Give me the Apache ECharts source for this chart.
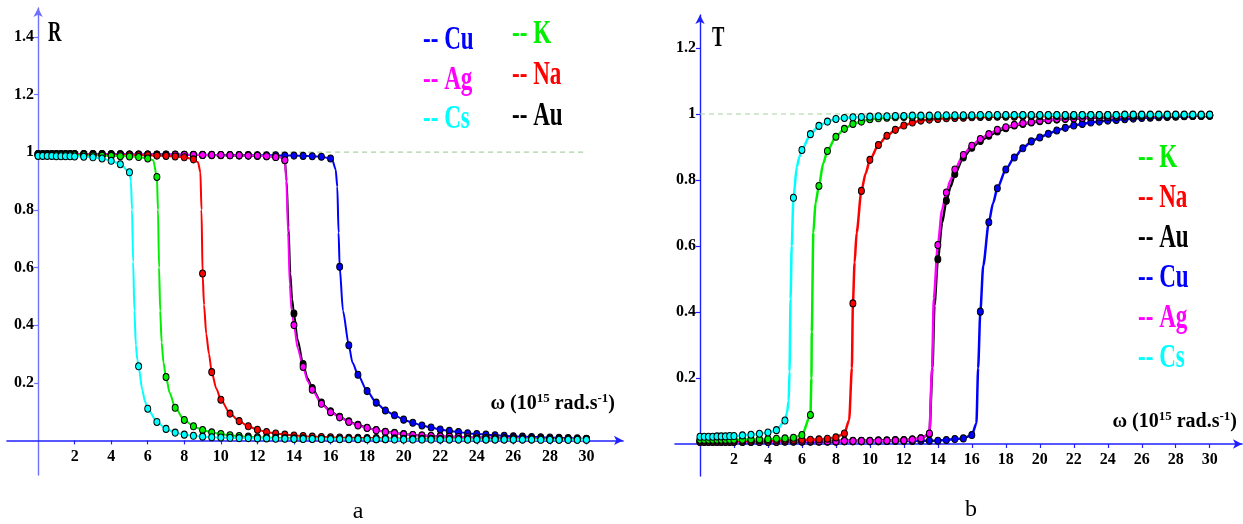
<!DOCTYPE html>
<html>
<head>
<meta charset="utf-8">
<script src="https://cdn.jsdelivr.net/npm/echarts@6/dist/echarts.min.js"></script>
<style>
  html, body { margin: 0; padding: 0; background: #fff; }
  #main { width: 1243px; height: 524px; }
</style>
</head>
<body>
<div id="main"></div>
<script>
// frequency grid where the markers sit (10^15 rad/s)
const omega = [0, 0.25, 0.5, 0.75, 1, 1.25, 1.5, 1.75, 2,
  2.5, 3, 3.5, 4, 4.5, 5, 5.5, 6, 6.5, 7,
  7.5, 8, 8.5, 9, 9.5, 10, 10.5, 11, 11.5, 12,
  12.5, 13, 13.5, 14, 14.5, 15, 15.5, 16, 16.5, 17,
  17.5, 18, 18.5, 19, 19.5, 20, 20.5, 21, 21.5, 22,
  22.5, 23, 23.5, 24, 24.5, 25, 25.5, 26, 26.5, 27,
  27.5, 28, 28.5, 29, 29.5, 30];

const xTicks = [2, 4, 6, 8, 10, 12, 14, 16, 18, 20, 22, 24, 26, 28, 30];
const rTicks = [0.2, 0.4, 0.6, 0.8, 1, 1.2, 1.4];
const tTicks = [0.2, 0.4, 0.6, 0.8, 1, 1.2];
const refLine = [[0, 1], [30, 1]];

// ---- reflectance R (panel a) ----
const csR = [0.987, 0.987, 0.987, 0.987, 0.986, 0.986, 0.986, 0.986, 0.985,
  0.984, 0.982, 0.978, 0.970, 0.958, 0.930, 0.257, 0.110, 0.064, 0.040,
  0.027, 0.020, 0.016, 0.013, 0.011, 0.010, 0.009, 0.008, 0.008, 0.007,
  0.007, 0.006, 0.006, 0.005, 0.005, 0.005, 0.005, 0.004, 0.004, 0.004,
  0.004, 0.004, 0.004, 0.004, 0.003, 0.003, 0.003, 0.003, 0.003, 0.003,
  0.003, 0.003, 0.003, 0.003, 0.003, 0.003, 0.003, 0.003, 0.003, 0.003,
  0.002, 0.002, 0.002, 0.002, 0.002, 0.002];
const kR = [0.989, 0.989, 0.989, 0.989, 0.989, 0.989, 0.989, 0.989, 0.989,
  0.989, 0.988, 0.988, 0.987, 0.986, 0.985, 0.983, 0.978, 0.914, 0.220,
  0.113, 0.071, 0.049, 0.036, 0.028, 0.022, 0.018, 0.015, 0.013, 0.011,
  0.010, 0.009, 0.008, 0.007, 0.007, 0.006, 0.006, 0.006, 0.005, 0.005,
  0.005, 0.005, 0.004, 0.004, 0.004, 0.004, 0.004, 0.004, 0.004, 0.003,
  0.003, 0.003, 0.003, 0.003, 0.003, 0.003, 0.003, 0.003, 0.003, 0.003,
  0.003, 0.003, 0.003, 0.003, 0.003, 0.003];
const naR = [0.991, 0.991, 0.991, 0.991, 0.991, 0.991, 0.991, 0.991, 0.991,
  0.991, 0.991, 0.990, 0.990, 0.990, 0.990, 0.989, 0.989, 0.988, 0.987,
  0.985, 0.982, 0.975, 0.579, 0.237, 0.141, 0.093, 0.067, 0.049, 0.037,
  0.029, 0.024, 0.020, 0.017, 0.015, 0.013, 0.012, 0.011, 0.010, 0.009,
  0.009, 0.008, 0.008, 0.007, 0.007, 0.006, 0.006, 0.006, 0.006, 0.005,
  0.005, 0.005, 0.005, 0.005, 0.004, 0.004, 0.004, 0.004, 0.004, 0.004,
  0.004, 0.003, 0.003, 0.003, 0.003, 0.003];
const agR = [0.993, 0.993, 0.993, 0.993, 0.993, 0.993, 0.993, 0.993, 0.993,
  0.993, 0.993, 0.993, 0.992, 0.992, 0.992, 0.992, 0.992, 0.991, 0.991,
  0.991, 0.991, 0.990, 0.990, 0.990, 0.990, 0.989, 0.989, 0.988, 0.988,
  0.986, 0.983, 0.972, 0.400, 0.255, 0.176, 0.127, 0.098, 0.080, 0.064,
  0.052, 0.043, 0.035, 0.029, 0.025, 0.021, 0.019, 0.017, 0.015, 0.014,
  0.013, 0.012, 0.011, 0.010, 0.009, 0.009, 0.008, 0.008, 0.007, 0.007,
  0.007, 0.006, 0.006, 0.006, 0.005, 0.005];
const auR = [0.992, 0.992, 0.992, 0.992, 0.992, 0.992, 0.992, 0.992, 0.992,
  0.992, 0.992, 0.992, 0.992, 0.992, 0.991, 0.991, 0.991, 0.991, 0.991,
  0.990, 0.990, 0.990, 0.990, 0.989, 0.989, 0.989, 0.988, 0.988, 0.987,
  0.986, 0.983, 0.973, 0.440, 0.265, 0.182, 0.131, 0.101, 0.082, 0.066,
  0.054, 0.044, 0.036, 0.030, 0.026, 0.022, 0.019, 0.017, 0.015, 0.014,
  0.013, 0.012, 0.011, 0.010, 0.010, 0.009, 0.008, 0.008, 0.007, 0.007,
  0.007, 0.006, 0.006, 0.006, 0.005, 0.005];
const cuR = [0.993, 0.993, 0.993, 0.993, 0.993, 0.993, 0.993, 0.993, 0.993,
  0.993, 0.993, 0.993, 0.993, 0.993, 0.992, 0.992, 0.992, 0.992, 0.992,
  0.992, 0.991, 0.991, 0.991, 0.991, 0.990, 0.990, 0.990, 0.990, 0.989,
  0.989, 0.989, 0.988, 0.988, 0.987, 0.986, 0.984, 0.978, 0.602, 0.330,
  0.228, 0.171, 0.131, 0.104, 0.087, 0.072, 0.061, 0.052, 0.045, 0.038,
  0.033, 0.029, 0.025, 0.022, 0.020, 0.018, 0.016, 0.014, 0.013, 0.012,
  0.011, 0.010, 0.009, 0.008, 0.007, 0.006];

// extra points of the curves between markers (steep edges)
const csRx = [[5.08, 0.9], [5.14, 0.8], [5.2, 0.62], [5.27, 0.45], [5.35, 0.33], [5.43, 0.28], [5.7, 0.175], [5.85, 0.135]];
const kRx = [[6.3, 0.972], [6.56, 0.8], [6.62, 0.6], [6.68, 0.45], [6.76, 0.34], [6.86, 0.27], [7.2, 0.165]];
const naRx = [[8.75, 0.965], [8.88, 0.93], [8.94, 0.8], [9.08, 0.47], [9.2, 0.37], [9.35, 0.3], [9.75, 0.18]];
const agRx = [[13.3, 0.982], [13.58, 0.9], [13.68, 0.72], [13.77, 0.54], [13.87, 0.45], [14.2, 0.32], [14.75, 0.205]];
const auRx = [[13.3, 0.982], [13.6, 0.9], [13.7, 0.74], [13.8, 0.58], [13.9, 0.49], [14.2, 0.35], [14.75, 0.215]];
const cuRx = [[16.1, 0.972], [16.28, 0.94], [16.37, 0.88], [16.44, 0.72], [16.68, 0.45], [17.2, 0.27]];

// ---- transmittance T (panel b) ----
const csT = [0.022, 0.022, 0.022, 0.022, 0.023, 0.023, 0.023, 0.024, 0.024,
  0.026, 0.028, 0.031, 0.035, 0.042, 0.071, 0.746, 0.891, 0.939, 0.964,
  0.977, 0.985, 0.988, 0.990, 0.991, 0.992, 0.993, 0.993, 0.994, 0.994,
  0.995, 0.995, 0.995, 0.996, 0.996, 0.996, 0.996, 0.996, 0.997, 0.997,
  0.997, 0.997, 0.997, 0.997, 0.997, 0.997, 0.997, 0.997, 0.997, 0.997,
  0.997, 0.997, 0.997, 0.997, 0.997, 0.998, 0.998, 0.998, 0.998, 0.998,
  0.998, 0.998, 0.998, 0.998, 0.998, 0.998];
const kT = [0.013, 0.013, 0.013, 0.013, 0.013, 0.013, 0.013, 0.013, 0.013,
  0.013, 0.014, 0.014, 0.015, 0.016, 0.017, 0.019, 0.027, 0.088, 0.782,
  0.888, 0.931, 0.955, 0.970, 0.977, 0.984, 0.987, 0.989, 0.990, 0.991,
  0.991, 0.992, 0.992, 0.993, 0.993, 0.994, 0.994, 0.994, 0.995, 0.995,
  0.995, 0.995, 0.995, 0.996, 0.996, 0.996, 0.996, 0.996, 0.996, 0.996,
  0.997, 0.997, 0.997, 0.997, 0.997, 0.997, 0.997, 0.997, 0.997, 0.997,
  0.997, 0.997, 0.997, 0.997, 0.997, 0.997];
const naT = [0.010, 0.010, 0.010, 0.010, 0.010, 0.010, 0.010, 0.010, 0.010,
  0.010, 0.010, 0.011, 0.011, 0.011, 0.012, 0.012, 0.013, 0.013, 0.014,
  0.016, 0.020, 0.032, 0.426, 0.767, 0.861, 0.906, 0.934, 0.952, 0.965,
  0.974, 0.980, 0.983, 0.985, 0.987, 0.988, 0.989, 0.990, 0.991, 0.991,
  0.992, 0.992, 0.992, 0.993, 0.993, 0.993, 0.994, 0.994, 0.994, 0.994,
  0.995, 0.995, 0.995, 0.995, 0.995, 0.995, 0.995, 0.995, 0.995, 0.995,
  0.996, 0.996, 0.996, 0.996, 0.996, 0.996];
const agT = [0.007, 0.007, 0.007, 0.007, 0.007, 0.007, 0.007, 0.007, 0.007,
  0.007, 0.007, 0.007, 0.007, 0.007, 0.008, 0.008, 0.008, 0.008, 0.008,
  0.008, 0.008, 0.009, 0.009, 0.009, 0.009, 0.010, 0.010, 0.011, 0.011,
  0.013, 0.017, 0.032, 0.603, 0.762, 0.832, 0.876, 0.904, 0.924, 0.939,
  0.952, 0.960, 0.967, 0.972, 0.976, 0.980, 0.982, 0.985, 0.986, 0.987,
  0.988, 0.990, 0.990, 0.991, 0.991, 0.992, 0.992, 0.993, 0.993, 0.994,
  0.994, 0.994, 0.995, 0.995, 0.995, 0.996];
const auT = [0.008, 0.008, 0.008, 0.008, 0.008, 0.008, 0.008, 0.008, 0.008,
  0.008, 0.008, 0.008, 0.008, 0.008, 0.009, 0.009, 0.009, 0.009, 0.009,
  0.009, 0.009, 0.010, 0.010, 0.010, 0.010, 0.011, 0.011, 0.012, 0.012,
  0.014, 0.017, 0.030, 0.560, 0.737, 0.818, 0.868, 0.898, 0.918, 0.934,
  0.947, 0.957, 0.965, 0.970, 0.974, 0.978, 0.981, 0.983, 0.985, 0.986,
  0.987, 0.988, 0.989, 0.990, 0.990, 0.991, 0.992, 0.992, 0.993, 0.993,
  0.993, 0.994, 0.994, 0.994, 0.995, 0.995];
const cuT = [0.006, 0.006, 0.006, 0.006, 0.006, 0.006, 0.006, 0.006, 0.006,
  0.006, 0.006, 0.006, 0.006, 0.006, 0.007, 0.007, 0.007, 0.007, 0.007,
  0.007, 0.007, 0.008, 0.008, 0.008, 0.008, 0.008, 0.009, 0.009, 0.009,
  0.009, 0.010, 0.010, 0.010, 0.012, 0.015, 0.017, 0.027, 0.401, 0.672,
  0.775, 0.832, 0.868, 0.896, 0.917, 0.929, 0.940, 0.950, 0.958, 0.965,
  0.970, 0.974, 0.977, 0.980, 0.982, 0.984, 0.986, 0.988, 0.989, 0.990,
  0.991, 0.992, 0.993, 0.994, 0.994, 0.995];

const csTx = [[5.12, 0.095], [5.22, 0.13], [5.27, 0.22], [5.33, 0.44], [5.4, 0.6], [5.7, 0.84], [5.85, 0.87]];
const kTx = [[6.56, 0.2], [6.58, 0.34], [6.67, 0.64], [6.8, 0.73], [7.25, 0.85]];
const naTx = [[8.78, 0.073], [8.94, 0.23], [9.1, 0.55], [9.22, 0.64], [9.75, 0.82]];
const agTx = [[13.66, 0.23], [13.76, 0.44], [14.25, 0.71], [14.75, 0.8]];
const auTx = [[13.68, 0.23], [13.8, 0.42], [14.25, 0.67], [14.75, 0.78]];
const cuTx = [[16.27, 0.063], [16.37, 0.23], [16.67, 0.54], [17.25, 0.73]];

const metals = ['Au', 'Cu', 'Ag', 'Na', 'K', 'Cs'];
const colors = { Cu: '#0000ff', Ag: '#ff00ff', Cs: '#00ffff', K: '#00ee00', Na: '#ff0000', Au: '#000000' };
const rData = { Cu: [cuR, cuRx], Ag: [agR, agRx], Cs: [csR, csRx], K: [kR, kRx], Na: [naR, naRx], Au: [auR, auRx] };
const tData = { Cu: [cuT, cuTx], Ag: [agT, agTx], Cs: [csT, csTx], K: [kT, kTx], Na: [naT, naTx], Au: [auT, auTx] };

const serif = '"Liberation Serif", "DejaVu Serif", serif';

// markers on omega grid, plain curve points elsewhere
function curve(ys, extra) {
  let pts = omega.map((w, i) => ({ value: [w, ys[i]] }));
  extra.forEach(p => pts.push({ value: p, symbol: 'none' }));
  pts.sort((a, b) => a.value[0] - b.value[0]);
  return pts;
}

function metalSeries(name, set, idx, lw) {
  return {
    name: name,
    type: 'line',
    xAxisIndex: idx,
    yAxisIndex: idx,
    data: curve(set[name][0], set[name][1]),
    smooth: 0.25,
    smoothMonotone: 'x',
    showAllSymbol: true,
    symbol: 'circle',
    symbolSize: [6, 7],
    lineStyle: { color: colors[name], width: lw },
    itemStyle: { color: colors[name], borderColor: '#000', borderWidth: 1 },
    silent: true,
    animation: false
  };
}

function refSeries(idx) {
  return {
    type: 'line',
    xAxisIndex: idx,
    yAxisIndex: idx,
    data: refLine,
    symbol: 'none',
    lineStyle: { color: '#a8d4a0', width: 1.2, type: [5, 4] },
    silent: true,
    z: 1,
    animation: false
  };
}

// axes are shifted inside the grid with offset so that they cross at the origin
function xAxisFor(idx, min, max, color, offset) {
  return {
    type: 'value', gridIndex: idx, min: min, max: max, offset: offset,
    axisLine: { onZero: false, symbol: ['none', 'arrow'], symbolSize: [7, 9],
      lineStyle: { color: color, width: 1.6 } },
    axisTick: { customValues: xTicks, length: 4, lineStyle: { color: color, width: 1.2 } },
    axisLabel: { customValues: xTicks, margin: 8, color: '#000', fontFamily: serif, fontWeight: 'bold', fontSize: 16 },
    splitLine: { show: false }
  };
}

function yAxisFor(idx, min, max, color, ticks, offset) {
  return {
    type: 'value', gridIndex: idx, min: min, max: max, offset: offset,
    axisLine: { onZero: false, symbol: ['none', 'arrow'], symbolSize: [7, 9],
      lineStyle: { color: color, width: 1.4 } },
    axisTick: { customValues: ticks, length: 4, lineStyle: { color: color, width: 1.2 } },
    axisLabel: { customValues: ticks, margin: 4, color: '#000', fontFamily: serif, fontWeight: 'bold', fontSize: 16 },
    splitLine: { show: false }
  };
}

function legendText(name, x, y) {
  return {
    type: 'text', x: x, y: y, scaleX: 0.7,
    style: { text: '-- ' + name, fill: colors[name], font: 'bold 33px ' + serif, textVerticalAlign: 'middle' },
    silent: true
  };
}

function omegaLabel(right, y) {
  return {
    type: 'text', x: right, y: y,
    style: {
      text: '{a|ω (10}{s|15}{a| rad.s}{s|-1}{a|)}',
      align: 'right', verticalAlign: 'middle',
      rich: {
        a: { font: 'bold 20px ' + serif, fill: '#000', lineHeight: 22, verticalAlign: 'bottom' },
        s: { font: 'bold 13px ' + serif, fill: '#000', lineHeight: 13, verticalAlign: 'top' }
      }
    },
    silent: true
  };
}

const chart = echarts.init(document.getElementById('main'));

const series = [refSeries(0), refSeries(1)];
metals.forEach(m => series.push(metalSeries(m, rData, 0, 2)));
metals.forEach(m => series.push(metalSeries(m, tData, 1, 2.5)));

const option = {
  backgroundColor: '#fff',
  animation: false,
  grid: [
    { left: 7, top: 8, width: 616, height: 467, outerBoundsMode: 'none' },
    { left: 675, top: 15, width: 567, height: 461, outerBoundsMode: 'none' }
  ],
  xAxis: [xAxisFor(0, -1.7, 32, '#2020ff', -34.6), xAxisFor(1, -1.47, 31.9, '#2020ff', -32)],
  yAxis: [yAxisFor(0, -0.12, 1.5, '#7070ff', rTicks, -31.1), yAxisFor(1, -0.097, 1.3, '#2020ff', tTicks, -25)],
  series: series,
  graphic: [
    { type: 'text', x: 48, y: 33, scaleX: 0.62, silent: true,
      style: { text: 'R', fill: '#000', font: 'bold 30px ' + serif, textVerticalAlign: 'middle' } },
    { type: 'text', x: 712, y: 38, scaleX: 0.62, silent: true,
      style: { text: 'T', fill: '#000', font: 'bold 30px ' + serif, textVerticalAlign: 'middle' } },
    legendText('Cu', 423, 40), legendText('Ag', 423, 80), legendText('Cs', 423, 119),
    legendText('K', 512, 34), legendText('Na', 512, 75), legendText('Au', 512, 116),
    legendText('K', 1138, 158), legendText('Na', 1138, 198), legendText('Au', 1138, 238),
    legendText('Cu', 1138, 278), legendText('Ag', 1138, 318), legendText('Cs', 1138, 358),
    omegaLabel(615, 403), omegaLabel(1237, 421),
    { type: 'text', x: 358, y: 512, silent: true,
      style: { text: 'a', fill: '#000', font: '24px ' + serif, align: 'center', verticalAlign: 'middle' } },
    { type: 'text', x: 971, y: 510, silent: true,
      style: { text: 'b', fill: '#000', font: '24px ' + serif, align: 'center', verticalAlign: 'middle' } }
  ]
};

chart.setOption(option);
window.addEventListener('resize', chart.resize);
</script>
</body>
</html>
